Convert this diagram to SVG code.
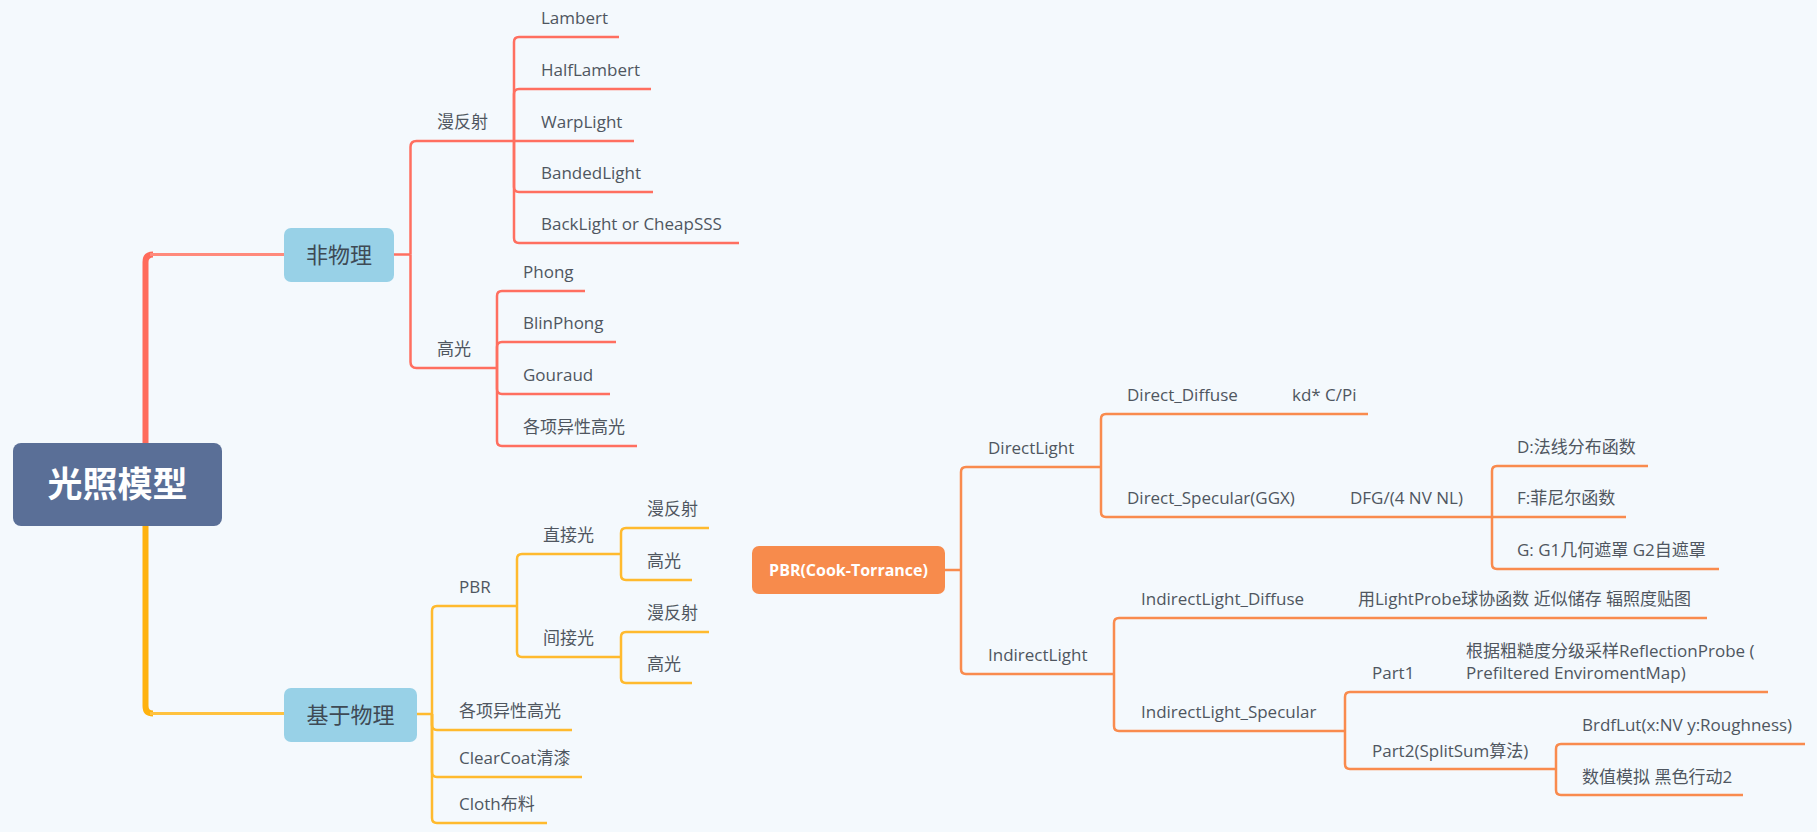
<svg xmlns="http://www.w3.org/2000/svg" width="1817" height="832" viewBox="0 0 1817 832">
<style>
.bg{fill:#F4F9FD}
.t{font-family:"Open Sans","Noto Sans CJK SC",sans-serif;font-size:17px;fill:#4F5660}
.m{font-family:"Open Sans","Noto Sans CJK SC",sans-serif;font-size:22px;fill:#3E4A55;text-anchor:middle}
.rt{font-family:"Noto Sans CJK SC","Open Sans",sans-serif;font-size:35px;font-weight:bold;fill:#FFFFFF;text-anchor:middle}
.pt{font-family:"Open Sans","Noto Sans CJK SC",sans-serif;font-size:16px;font-weight:bold;fill:#FFFFFF;text-anchor:middle}
.r{fill:none;stroke:#FF6F60;stroke-width:2.5;stroke-linecap:butt}
.y{fill:none;stroke:#FFBA2E;stroke-width:2.5}
.o{fill:none;stroke:#F98B4E;stroke-width:2.5}
</style>
<rect class="bg" x="0" y="0" width="1817" height="832"/>
<g id="connectors">
<path d="M145.5,443 V262 Q145.5,254.5 153,254.5" fill="none" stroke="#FF6B5B" stroke-width="6"/>
<path d="M150,254.5 H284" fill="none" stroke="#FF8A7C" stroke-width="3"/>
<path d="M145.5,526 V706 Q145.5,713.5 153,713.5" fill="none" stroke="#FFB20E" stroke-width="6"/>
<path d="M150,713.5 H284" fill="none" stroke="#FFC23F" stroke-width="3"/>
<path class="r" d="M394,254.5 H410.5"/>
<path class="r" d="M410.5,254.5 V147 Q410.5,141 416.5,141 H514"/>
<path class="r" d="M410.5,254.5 V362 Q410.5,368 416.5,368 H497"/>
<path class="r" d="M514,141 V42 Q514,37 519,37 H619"/>
<path class="r" d="M514,141 V94 Q514,89 519,89 H651"/>
<path class="r" d="M514,141 H634"/>
<path class="r" d="M514,141 V187 Q514,192 519,192 H653"/>
<path class="r" d="M514,141 V238 Q514,243 519,243 H739"/>
<path class="r" d="M497,368 V296 Q497,291 502,291 H585"/>
<path class="r" d="M497,368 V347 Q497,342 502,342 H616"/>
<path class="r" d="M497,368 V389 Q497,394 502,394 H610"/>
<path class="r" d="M497,368 V441 Q497,446 502,446 H637"/>
<path class="y" d="M417,714 H432"/>
<path class="y" d="M432,714 V611 Q432,606 437,606 H517"/>
<path class="y" d="M432,714 V725 Q432,730 437,730 H572"/>
<path class="y" d="M432,714 V772 Q432,777 437,777 H582"/>
<path class="y" d="M432,714 V818 Q432,823 437,823 H547"/>
<path class="y" d="M517,606 V559 Q517,554 522,554 H621"/>
<path class="y" d="M517,606 V652 Q517,657 522,657 H621"/>
<path class="y" d="M621,554 V533 Q621,528 626,528 H709"/>
<path class="y" d="M621,554 V575 Q621,580 626,580 H692"/>
<path class="y" d="M621,657 V637 Q621,632 626,632 H709"/>
<path class="y" d="M621,657 V678 Q621,683 626,683 H692"/>
<path class="o" d="M945,570 H961"/>
<path class="o" d="M961,570 V472 Q961,467 966,467 H1101"/>
<path class="o" d="M961,570 V669 Q961,674 966,674 H1114"/>
<path class="o" d="M1101,467 V419 Q1101,414 1106,414 H1368"/>
<path class="o" d="M1101,467 V512 Q1101,517 1106,517 H1492"/>
<path class="o" d="M1492,517 V471 Q1492,466 1497,466 H1648"/>
<path class="o" d="M1492,517 H1626"/>
<path class="o" d="M1492,517 V564 Q1492,569 1497,569 H1719"/>
<path class="o" d="M1114,674 V623 Q1114,618 1119,618 H1707"/>
<path class="o" d="M1114,674 V726 Q1114,731 1119,731 H1345"/>
<path class="o" d="M1345,731 V697 Q1345,692 1350,692 H1768"/>
<path class="o" d="M1345,731 V764 Q1345,769 1350,769 H1556"/>
<path class="o" d="M1556,769 V749 Q1556,744 1561,744 H1805"/>
<path class="o" d="M1556,769 V790 Q1556,795 1561,795 H1743"/>
</g>
<g id="root"><rect x="13" y="443" width="209" height="83" rx="8" fill="#5A6F97"/><text class="rt" x="117.5" y="497">光照模型</text></g>
<g id="nonphys"><rect x="284" y="228" width="110" height="54" rx="7" fill="#98D1E7"/><text class="m" x="339" y="263">非物理</text></g>
<g id="phys"><rect x="284" y="688" width="133" height="54" rx="7" fill="#98D1E7"/><text class="m" x="350.5" y="723">基于物理</text></g>
<g id="pbrct"><rect x="752" y="546" width="193" height="48" rx="7" fill="#F78B4C"/><text class="pt" x="848.5" y="576">PBR(Cook-Torrance)</text></g>
<g id="diffuse1"><text class="t" x="437" y="128">漫反射</text></g>
<g id="spec1"><text class="t" x="437" y="355">高光</text></g>
<g id="lambert"><text class="t" x="541" y="24">Lambert</text></g>
<g id="halflambert"><text class="t" x="541" y="76">HalfLambert</text></g>
<g id="warplight"><text class="t" x="541" y="128">WarpLight</text></g>
<g id="bandedlight"><text class="t" x="541" y="179">BandedLight</text></g>
<g id="backlight"><text class="t" x="541" y="230">BackLight or CheapSSS</text></g>
<g id="phong"><text class="t" x="523" y="278">Phong</text></g>
<g id="blinphong"><text class="t" x="523" y="329">BlinPhong</text></g>
<g id="gouraud"><text class="t" x="523" y="381">Gouraud</text></g>
<g id="aniso1"><text class="t" x="523" y="433">各项异性高光</text></g>
<g id="pbr"><text class="t" x="459" y="593">PBR</text></g>
<g id="direct"><text class="t" x="543" y="541">直接光</text></g>
<g id="indirect"><text class="t" x="543" y="644">间接光</text></g>
<g id="d_diffuse"><text class="t" x="647" y="515">漫反射</text></g>
<g id="d_spec"><text class="t" x="647" y="567">高光</text></g>
<g id="i_diffuse"><text class="t" x="647" y="619">漫反射</text></g>
<g id="i_spec"><text class="t" x="647" y="670">高光</text></g>
<g id="aniso2"><text class="t" x="459" y="717">各项异性高光</text></g>
<g id="clearcoat"><text class="t" x="459" y="764">ClearCoat清漆</text></g>
<g id="cloth"><text class="t" x="459" y="810">Cloth布料</text></g>
<g id="directlight"><text class="t" x="988" y="454">DirectLight</text></g>
<g id="indirectlight"><text class="t" x="988" y="661">IndirectLight</text></g>
<g id="direct_diffuse"><text class="t" x="1127" y="401">Direct_Diffuse</text></g>
<g id="kd"><text class="t" x="1292" y="401">kd* C/Pi</text></g>
<g id="direct_spec"><text class="t" x="1127" y="504">Direct_Specular(GGX)</text></g>
<g id="dfg"><text class="t" x="1350" y="504">DFG/(4 NV NL)</text></g>
<g id="dterm"><text class="t" x="1517" y="453">D:法线分布函数</text></g>
<g id="fterm"><text class="t" x="1517" y="504">F:菲尼尔函数</text></g>
<g id="gterm"><text class="t" x="1517" y="556">G: G1几何遮罩 G2自遮罩</text></g>
<g id="il_diffuse"><text class="t" x="1141" y="605">IndirectLight_Diffuse</text></g>
<g id="lightprobe"><text class="t" x="1358" y="605">用LightProbe球协函数 近似储存 辐照度贴图</text></g>
<g id="il_spec"><text class="t" x="1141" y="718">IndirectLight_Specular</text></g>
<g id="part1"><text class="t" x="1372" y="679">Part1</text></g>
<g id="reflprobe"><text class="t" x="1466" y="657">根据粗糙度分级采样ReflectionProbe (</text><text class="t" x="1466" y="679">Prefiltered EnviromentMap)</text></g>
<g id="part2"><text class="t" x="1372" y="757">Part2(SplitSum算法)</text></g>
<g id="brdflut"><text class="t" x="1582" y="731">BrdfLut(x:NV y:Roughness)</text></g>
<g id="numeric"><text class="t" x="1582" y="783">数值模拟 黑色行动2</text></g>
</svg>
